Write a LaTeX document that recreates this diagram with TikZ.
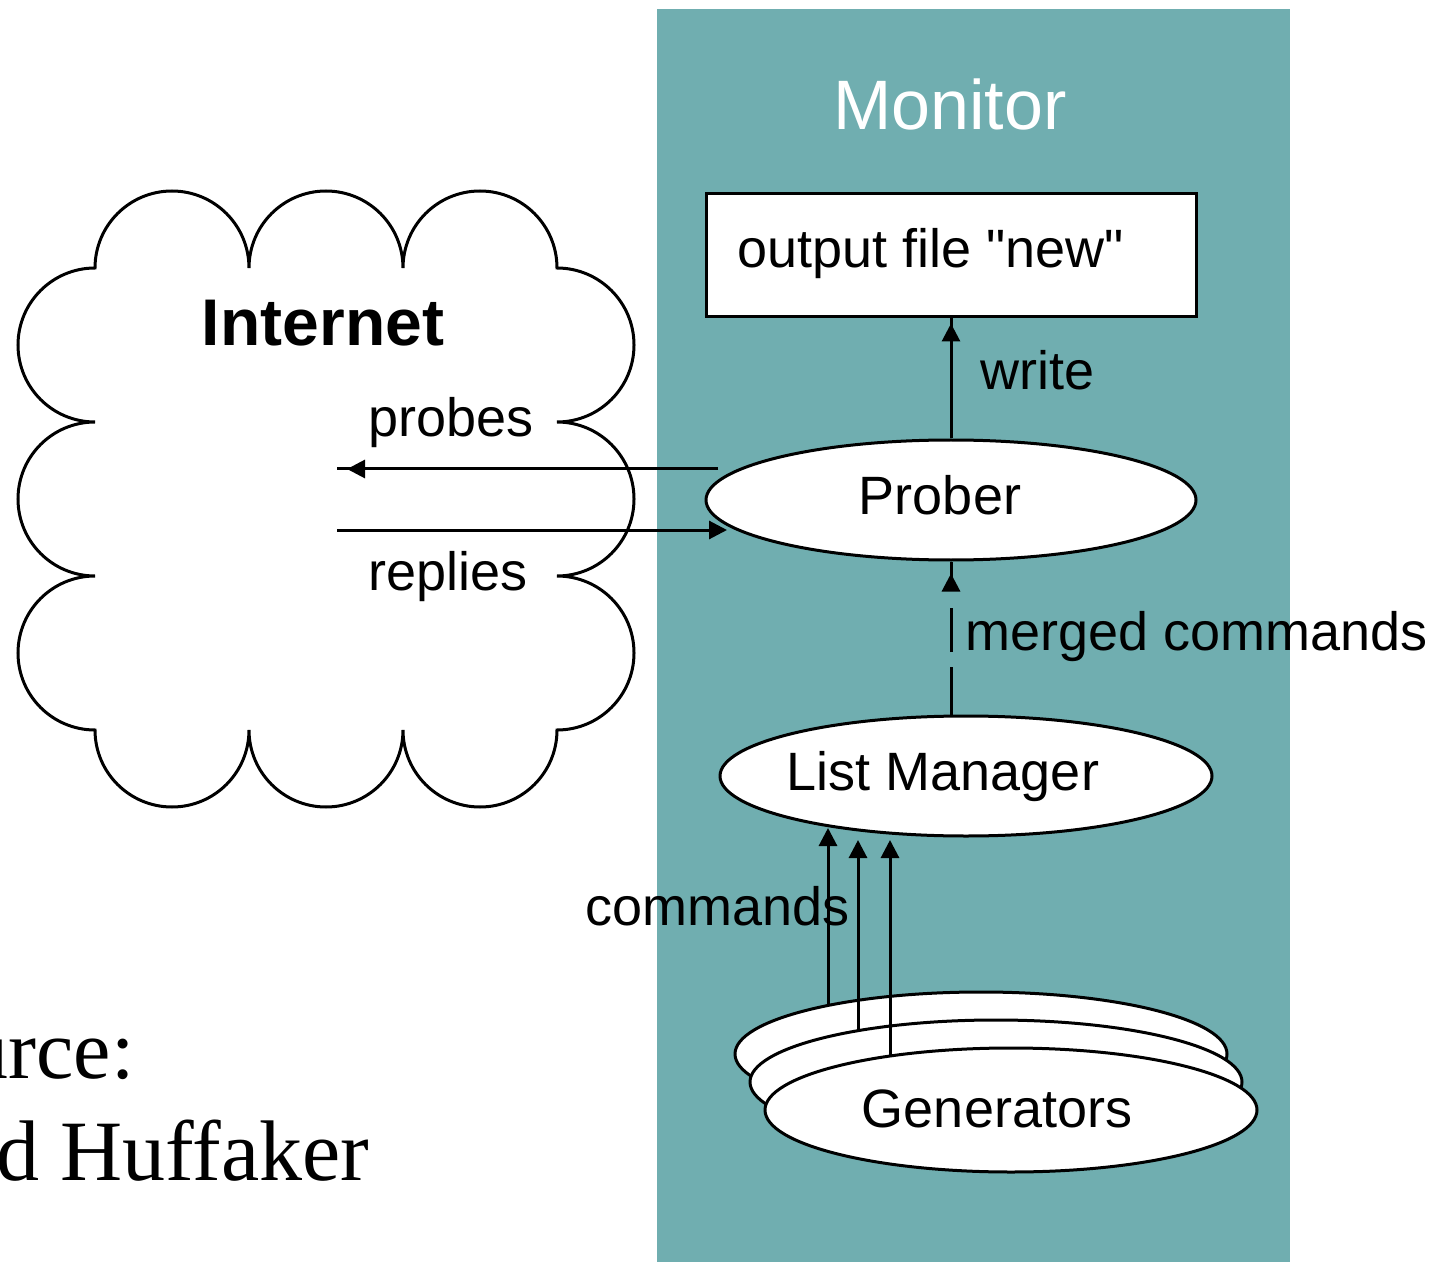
\documentclass[tikz,border=0pt]{standalone}
\usepackage{fontspec}
\setmainfont{Liberation Sans}
\newfontfamily\seriffont{Liberation Serif}
\usetikzlibrary{arrows.meta,shapes.geometric}
\definecolor{monteal}{RGB}{112,174,176}
\newcommand\strq{\XeTeXglyph\XeTeXcharglyph"22\relax}
\begin{document}
\begin{tikzpicture}[x=0.5pt,y=-0.5pt,
  lbl/.style={inner sep=0pt, anchor=base west, font=\fontsize{27}{30}\selectfont},
  ctr/.style={inner sep=0pt, anchor=base, font=\fontsize{27}{30}\selectfont},
  ln/.style={line width=1.5pt},
  tipped/.style={line width=1.5pt, -{Triangle[length=9pt,width=9pt]}},
  ellnode/.style={ellipse, draw, fill=white, line width=1.5pt, inner sep=0pt}]
\useasboundingbox (0,0) rectangle (1435,1262);
\fill[monteal] (657,9) rectangle (1290,1262);

% cloud
\draw[ln] (95,268)
  arc[start angle=180,end angle=360,radius=77]
  arc[start angle=180,end angle=360,radius=77]
  arc[start angle=180,end angle=360,radius=77]
  arc[start angle=-90,end angle=90,radius=77]
  arc[start angle=-90,end angle=90,radius=77]
  arc[start angle=-90,end angle=90,radius=77]
  arc[start angle=0,end angle=180,radius=77]
  arc[start angle=0,end angle=180,radius=77]
  arc[start angle=0,end angle=180,radius=77]
  arc[start angle=90,end angle=270,radius=77]
  arc[start angle=90,end angle=270,radius=77]
  arc[start angle=90,end angle=270,radius=77] -- cycle;
\node[inner sep=0pt, anchor=base, font=\fontsize{33}{38}\selectfont\bfseries] (inet) at (323,346) {Internet};

% monitor
\node[inner sep=0pt, anchor=base, text=white, font=\fontsize{35}{40}\selectfont] (mon) at (950,130) {Monitor};
\node[draw, fill=white, line width=1.5pt, minimum width=245pt, minimum height=61.5pt, inner sep=0pt] (out) at (951,255.5) {};
\node[lbl] (outtxt) at (737,268) {output file \strq new\strq};

\node[ellnode, minimum width=245pt, minimum height=60pt] (pr) at (951,500) {};
\node[ctr] (prtxt) at (940,515) {Prober};

\node[ellnode, minimum width=246pt, minimum height=60pt] (lm) at (966,776) {};
\node[ctr] (lmtxt) at (943,790) {List Manager};

\node[ellnode, minimum width=246pt, minimum height=62pt] (g1) at (981,1054) {};
\node[ellnode, minimum width=246pt, minimum height=62pt] (g2) at (996,1082) {};
\node[ellnode, minimum width=246pt, minimum height=62pt] (g3) at (1011,1110) {};
\node[ctr] (gtxt) at (997,1127) {Generators};

% write
\draw[ln] (pr.north) -- (out.south);
\draw[tipped, shorten >=2.5pt] (pr.north) -- (out.south);
\node[lbl] (wr) at (980,390) {write};

% merged commands
\coordinate (m1) at (951,667);
\coordinate (m2) at (951,652);
\coordinate (m3) at (951,608);
\coordinate (m4) at (951,590);
\draw[ln] (m1) -- (m1 |- lm.north);
\draw[ln] (m2) -- (m3);
\draw[ln] (m4) -- (pr.south);
\draw[tipped, shorten >=6pt] (m4) -- (pr.south);
\node[lbl] (mc) at (965,650) {merged commands};

% probes / replies
\coordinate (ps) at (718,469);
\coordinate (pl) at (337,469);
\draw[ln] (ps) -- (pl);
\draw[tipped, shorten >=5pt] (ps) -- (pl);
\node[lbl] (pb) at (368,437) {probes};
\coordinate (rl) at (337,530);
\coordinate (re) at (727,530);
\draw[tipped] (rl) -- (re);
\node[lbl] (rp) at (368,590) {replies};

% commands
\coordinate (c1a) at (828,1005);
\coordinate (c1b) at (828,828);
\coordinate (c2a) at (858,1031);
\coordinate (c2b) at (858,840);
\coordinate (c3a) at (890,1056);
\coordinate (c3b) at (890,840);
\draw[tipped] (c1a) -- (c1b);
\draw[tipped] (c2a) -- (c2b);
\draw[tipped] (c3a) -- (c3b);
\node[lbl] (cm) at (585,925) {commands};

% source
\begin{scope}
\clip (0,0) rectangle (1435,1262);
\node[inner sep=0pt, anchor=base east, font=\fontsize{42}{46}\seriffont] (src1) at (135,1078) {Source:};
\node[inner sep=0pt, anchor=base east, font=\fontsize{43}{46}\seriffont] (src2) at (370,1180) {Brad Huffaker};
\end{scope}
\end{tikzpicture}
\end{document}
